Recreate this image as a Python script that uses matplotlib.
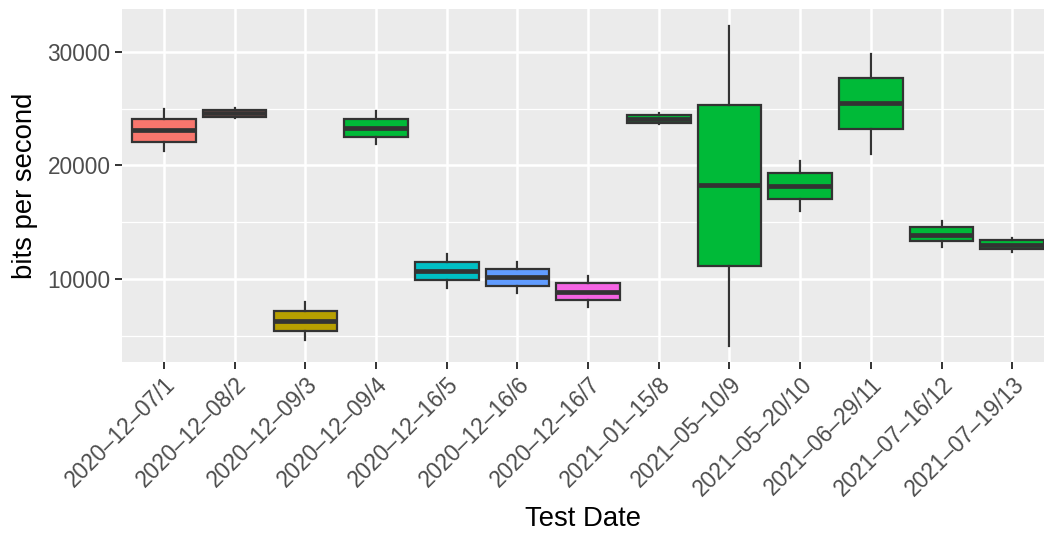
import matplotlib
matplotlib.use("Agg")
import matplotlib.pyplot as plt
import matplotlib.transforms as mtransforms
import numpy as np

plt.rcParams["font.family"] = ["Liberation Sans", "DejaVu Sans"]

# ── Data ──────────────────────────────────────────────────────────────────
test_dates = [
    "2020-12-07/1", "2020-12-08/2", "2020-12-09/3", "2020-12-09/4",
    "2020-12-16/5", "2020-12-16/6", "2020-12-16/7", "2021-01-15/8",
    "2021-05-10/9", "2021-05-20/10", "2021-06-29/11", "2021-07-16/12",
    "2021-07-19/13",
]
whisker_low = [21270, 24150, 4670, 21860, 9210, 8770, 7590, 23620,
               4170, 16000, 21010, 12870, 12430]
q1 = [22090, 24290, 5460, 22530, 9940, 9410, 8180, 23760,
      11170, 17030, 23180, 13370, 12640]
median = [23120, 24610, 6360, 23320, 10760, 10180, 8910, 24110,
          18260, 18230, 25470, 13870, 13040]
q3 = [24090, 24880, 7210, 24110, 11550, 10930, 9650, 24440,
      25290, 19340, 27660, 14600, 13450]
whisker_high = [24940, 25080, 8030, 24790, 12250, 11520, 10260, 24590,
                32290, 20370, 29820, 15120, 13660]
fill_colors = ["#F8766D", "#F8766D", "#B79F00", "#00BA38", "#00BFC4",
               "#619CFF", "#F564E3", "#00BA38", "#00BA38", "#00BA38",
               "#00BA38", "#00BA38", "#00BA38"]

# R draws the hyphens wider; mimic with an en dash
tick_labels = [d.replace("-", "\u2013") for d in test_dates]

fig = plt.figure(figsize=(10.44, 5.33), dpi=100)
ax = fig.add_axes([121.6 / 1044, 1 - 362 / 533, 1 - 121.6 / 1044, (362 - 9) / 533])
ax.set_facecolor("#EBEBEB")

stats = []
for i in range(len(test_dates)):
    stats.append(dict(med=median[i], q1=q1[i], q3=q3[i],
                      whislo=whisker_low[i], whishi=whisker_high[i], fliers=[]))

positions = np.arange(1, len(test_dates) + 1)
bp = ax.bxp(stats, positions=positions, widths=0.9, patch_artist=True,
            showcaps=False, showfliers=False,
            boxprops=dict(edgecolor="#333333", linewidth=1.6),
            whiskerprops=dict(color="#333333", linewidth=1.6),
            medianprops=dict(color="#333333", linewidth=3.4, solid_capstyle="butt"),
            zorder=3)
for patch, col in zip(bp["boxes"], fill_colors):
    patch.set_facecolor(col)

ax.set_xlim(0.4, 13.45)
ax.set_ylim(2733, 33752)

ax.set_yticks([10000, 20000, 30000])
ax.set_yticks([5000, 15000, 25000], minor=True)
ax.set_xticks(positions)
ax.set_xticklabels(tick_labels, rotation=45, ha="right", va="top",
                   rotation_mode="anchor")

# nudge rotated labels like ggplot's hjust=1 / vjust=1
offset = mtransforms.ScaledTranslation(5 / 100, 0, fig.dpi_scale_trans)
for lab in ax.get_xticklabels():
    lab.set_transform(lab.get_transform() + offset)

ax.grid(True, which="major", color="white", linewidth=1.8, zorder=0)
ax.grid(True, which="minor", axis="y", color="white", linewidth=0.9, zorder=0)
ax.set_axisbelow(True)
for s in ax.spines.values():
    s.set_visible(False)

ax.tick_params(axis="both", which="major", length=5, width=1.4, color="#333333",
               labelsize=16.3, labelcolor="#4D4D4D", pad=3)
ax.tick_params(axis="y", which="minor", length=0)

ax.set_xlabel("Test Date", fontsize=19.8, color="black", labelpad=4)
ax.set_ylabel("bits per second", fontsize=19.8, color="black", labelpad=7)

fig.savefig("out.png", dpi=100)
